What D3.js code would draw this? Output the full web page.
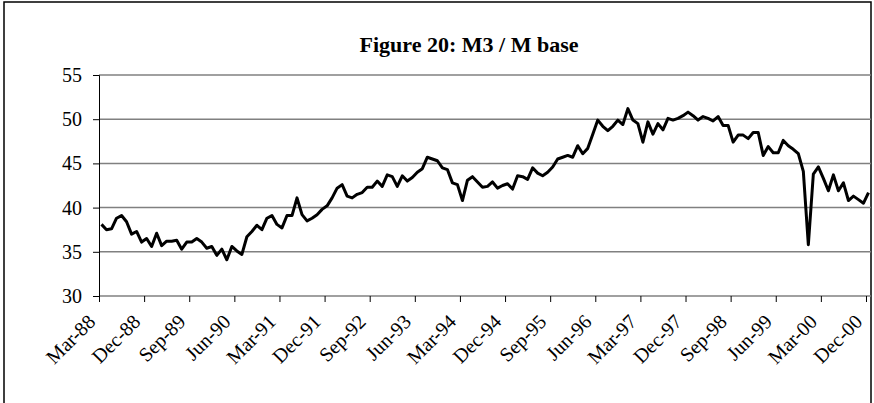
<!DOCTYPE html>
<html>
<head>
<meta charset="utf-8">
<script src="https://cdn.jsdelivr.net/npm/d3@7"></script>
<style>
  body { margin: 0; background: #fff; }
  svg { display: block; font-family: "Liberation Serif", "Times New Roman", serif; }
</style>
</head>
<body>
<div id="chart"></div>
<script>
// monthly M3 / M base ratio, Mar-88 .. Dec-00
var firstMonth = new Date(1988, 2, 1);
var values = [
  38.1, 37.5, 37.6, 38.8, 39.1, 38.4, 37.0, 37.3, 36.1, 36.5, 35.6, 37.1,
  35.7, 36.2, 36.2, 36.3, 35.3, 36.1, 36.1, 36.5, 36.1, 35.4, 35.6, 34.6,
  35.3, 34.1, 35.6, 35.1, 34.7, 36.7, 37.3, 38.0, 37.5, 38.8, 39.1, 38.1,
  37.7, 39.1, 39.1, 41.1, 39.2, 38.5, 38.8, 39.2, 39.8, 40.2, 41.1, 42.2,
  42.6, 41.3, 41.1, 41.5, 41.7, 42.3, 42.3, 43.0, 42.4, 43.7, 43.5, 42.4,
  43.6, 43.0, 43.4, 44.0, 44.4, 45.7, 45.5, 45.3, 44.5, 44.3, 42.8, 42.6,
  40.8, 43.1, 43.5, 42.9, 42.3, 42.4, 42.9, 42.2, 42.5, 42.7, 42.1, 43.6,
  43.5, 43.2, 44.5, 43.9, 43.6, 44.0, 44.6, 45.5, 45.7, 45.9, 45.7, 47.0,
  46.1, 46.7, 48.3, 49.9, 49.2, 48.7, 49.2, 49.9, 49.4, 51.2, 49.9, 49.5,
  47.4, 49.7, 48.3, 49.5, 48.8, 50.1, 49.9, 50.1, 50.4, 50.8, 50.4, 49.9,
  50.3, 50.1, 49.8, 50.3, 49.3, 49.3, 47.4, 48.2, 48.2, 47.8, 48.5, 48.5,
  45.9, 46.9, 46.2, 46.2, 47.6, 47.0, 46.6, 46.1, 44.1, 35.8, 43.8, 44.6,
  43.3, 41.9, 43.7, 41.9, 42.8, 40.8, 41.3, 40.9, 40.5, 41.7
];
var months = d3.range(values.length).map(function(i) { return d3.timeMonth.offset(firstMonth, i); });
var tickLabels = ["Mar-88", "Dec-88", "Sep-89", "Jun-90", "Mar-91", "Dec-91", "Sep-92", "Jun-93", "Mar-94",
                  "Dec-94", "Sep-95", "Jun-96", "Mar-97", "Dec-97", "Sep-98", "Jun-99", "Mar-00", "Dec-00"];
var yTicks = [30, 35, 40, 45, 50, 55];
var title = "Figure 20: M3 / M base";

var W = 874, H = 403;
var margin = {top: 75, right: 3, bottom: 107, left: 99};
var width = W - margin.left - margin.right,
    height = H - margin.top - margin.bottom;

var svg = d3.select("#chart").append("svg")
    .attr("width", W)
    .attr("height", H);

// chart area frame
svg.append("rect")
    .attr("x", 4).attr("y", 2)
    .attr("width", 867).attr("height", 420)
    .attr("fill", "none")
    .attr("stroke", "#000")
    .attr("stroke-width", 1.5);

svg.append("text")
    .attr("x", 469).attr("y", 52)
    .attr("text-anchor", "middle")
    .style("font-size", "22px")
    .style("font-weight", "bold")
    .text(title);

var g = svg.append("g")
    .attr("transform", "translate(" + margin.left + "," + margin.top + ")");

// category axis: one slot per month, points in slot centres
var x = d3.scaleLinear()
    .domain([0, values.length])
    .range([0, width]);

var y = d3.scaleLinear()
    .domain([30, 55])
    .range([height, 0]);

// gridlines
g.append("g")
  .selectAll("line")
  .data(yTicks)
  .enter().append("line")
    .attr("x1", 0).attr("x2", width)
    .attr("y1", function(d) { return y(d); })
    .attr("y2", function(d) { return y(d); })
    .attr("stroke", "#808080")
    .attr("stroke-width", 1.5);

// Y axis
var yAxis = g.append("g")
    .call(d3.axisLeft(y).tickValues(yTicks).tickSize(6).tickPadding(11));
yAxis.attr("font-family", null).attr("font-size", null);
yAxis.select(".domain").attr("stroke", "#000");
yAxis.selectAll("text").style("font-size", "20px").attr("fill", "#000");

// X axis
var tickIdx = tickLabels.map(function(d, i) { return i * 9; });
var xAxis = g.append("g")
    .attr("transform", "translate(0," + height + ")")
    .call(d3.axisBottom(x).tickValues(tickIdx).tickSize(6)
      .tickFormat(function(d, i) { return tickLabels[i]; }));
xAxis.attr("font-family", null).attr("font-size", null);
xAxis.select(".domain").remove();
xAxis.selectAll("text")
    .style("font-size", "20px")
    .attr("fill", "#000")
    .attr("text-anchor", "end")
    .attr("dy", null)
    .attr("y", 0)
    .attr("transform", "translate(-3,27) rotate(-45)");

var line = d3.line()
    .x(function(d, i) { return x(i + 0.5); })
    .y(function(d) { return y(d); });

g.append("path")
    .datum(values)
    .attr("fill", "none")
    .attr("stroke", "#000")
    .attr("stroke-width", 3)
    .attr("stroke-linejoin", "round")
    .attr("d", line);
</script>
</body>
</html>
